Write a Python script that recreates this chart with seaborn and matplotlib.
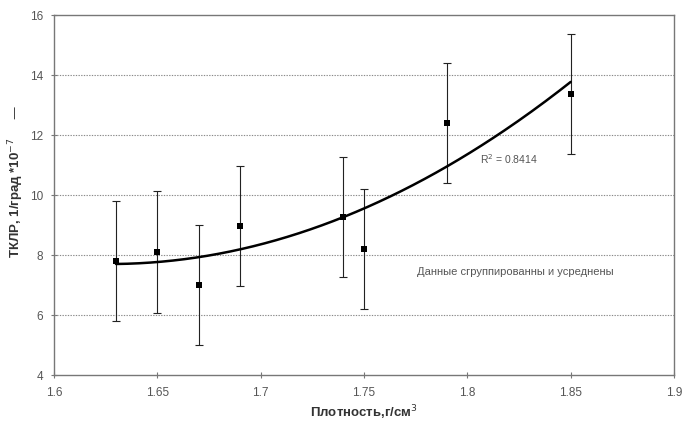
import numpy as np
import pandas as pd
import matplotlib
matplotlib.use("Agg")
import matplotlib.pyplot as plt
import seaborn as sns

density = [1.63, 1.65, 1.67, 1.69, 1.74, 1.75, 1.79, 1.85]
tclr = [7.8, 8.1, 7.0, 8.97, 9.27, 8.2, 12.4, 13.37]
err = [2.0, 2.03, 2.0, 2.0, 2.0, 2.0, 2.0, 2.0]
x_ticks = [1.6, 1.65, 1.7, 1.75, 1.8, 1.85, 1.9]
x_tick_labels = ["1.6", "1.65", "1.7", "1.75", "1.8", "1.85", "1.9"]
y_ticks = [4, 6, 8, 10, 12, 14, 16]

sns.set_theme(style="white")
plt.rcParams['font.family'] = ['Liberation Sans', 'DejaVu Sans']

df = pd.DataFrame({"x": density, "y": tclr, "e": err})
coef = np.polyfit(df["x"], df["y"], 2)
xs = np.linspace(min(density), max(density), 200)
fit = pd.DataFrame({"x": xs, "y": np.polyval(coef, xs)})

fig = plt.figure(figsize=(6.83, 4.22), dpi=100)
ax = fig.add_axes([54/683, 47/422, 620/683, 360/422])

ax.errorbar(df["x"], df["y"], yerr=df["e"], fmt="none", ecolor="#222222",
            elinewidth=0.8, capsize=3, capthick=0.8, zorder=3)
sns.lineplot(data=fit, x="x", y="y", ax=ax, color="black", linewidth=1.8, zorder=4)
sns.scatterplot(data=df, x="x", y="y", ax=ax, marker="s", color="black", s=14,
                edgecolor="black", linewidth=0, zorder=5)

ax.set_xlim(1.6, 1.9)
ax.set_ylim(4, 16)
ax.set_xticks(x_ticks)
ax.set_xticklabels(x_tick_labels)
ax.set_yticks(y_ticks)
for yv in y_ticks[1:-1]:
    ax.axhline(yv, color="#8a8a8a", linestyle=(0, (1.2, 1.2)), linewidth=0.8, zorder=1)

for s in ax.spines.values():
    s.set_color("#777777")
    s.set_linewidth(1.0)
ax.tick_params(axis="both", direction="inout", length=4, width=0.8, color="#777777",
               labelsize=8.5, labelcolor="#555555", left=True, bottom=True)
ax.tick_params(axis="x", pad=7)
ax.tick_params(axis="y", pad=6)

ax.set_xlabel("Плотность,г/см$^3$", fontsize=9.5, fontweight="bold", color="#333333")
ax.xaxis.label.set_va("center")
ax.xaxis.set_label_coords(0.5, -(413 - 375) / 360)
ax.set_ylabel("ТКЛР, 1/град *10$^{-7}$     —", fontsize=9.5, fontweight="bold", color="#333333")
ax.yaxis.label.set_va("center")
ax.yaxis.set_label_coords(-(54 - 16) / 620, (375 - 182) / 360)

ax.text(1.806, 11.2, "R$^2$ = 0.8414", fontsize=7.5, color="#555555", va="center")
ax.text(1.7756, 7.43, "Данные сгруппированны и усреднены", fontsize=8, color="#555555", va="center")

fig.savefig("out.png", dpi=100)
